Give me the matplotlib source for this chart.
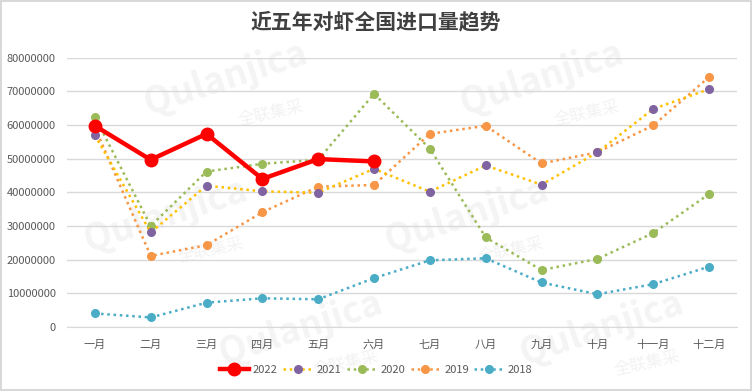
import matplotlib.pyplot as plt

plt.rcParams['font.family'] = ['Noto Sans CJK SC', 'DejaVu Sans']

# ---------------------------------------------------------
# data
# ---------------------------------------------------------

months = ["一月", "二月", "三月", "四月", "五月", "六月",
          "七月", "八月", "九月", "十月", "十一月", "十二月"]

y2022 = [59800000, 49700000, 57400000, 44000000, 49900000, 49200000]
y2021 = [57000000, 28100000, 42000000, 40300000, 39900000, 47000000,
         40200000, 48000000, 42300000, 51900000, 64800000, 70700000]
y2020 = [62500000, 30000000, 46200000, 48500000, 49700000, 69300000,
         53000000, 26600000, 16900000, 20200000, 27900000, 39500000]
y2019 = [59300000, 21100000, 24300000, 34100000, 41700000, 42200000,
         57400000, 59800000, 48600000, 51900000, 59900000, 74300000]
y2018 = [4000000, 2800000, 7200000, 8500000, 8200000, 14500000,
         19800000, 20400000, 13200000, 9700000, 12700000, 17900000]

yticks = list(range(0, 80000001, 10000000))

# ---------------------------------------------------------
# figure
# ---------------------------------------------------------

fig = plt.figure(figsize=(7.52, 3.91), dpi=100)
fig.patch.set_edgecolor("#d9d9d9")
fig.patch.set_linewidth(1.5)
ax = fig.add_axes([0.089, 0.164, 0.891, 0.688])

# faint watermark, kept behind everything
for (wx, wy) in [(0.30, 0.80), (0.72, 0.80), (0.22, 0.45),
                 (0.62, 0.45), (0.40, 0.16), (0.80, 0.16)]:
    fig.text(wx, wy, "Qulanjica", fontsize=26, fontweight="bold", color="#f4f4f4",
             rotation=18, ha="center", va="center", zorder=-2)
    fig.text(wx + 0.06, wy - 0.09, "全联集采", fontsize=12, color="#f2f2f2",
             rotation=12, ha="center", va="center", zorder=-2)

x = list(range(len(months)))
dots = (0, (1, 1.5))

ax.plot(x, y2018, linestyle=dots, linewidth=1.8, color="#4BACC6",
        marker="o", markersize=5.5, label="2018", zorder=3)
ax.plot(x, y2019, linestyle=dots, linewidth=1.8, color="#F79646",
        marker="o", markersize=5.5, label="2019", zorder=3)
ax.plot(x, y2020, linestyle=dots, linewidth=1.8, color="#9BBB59",
        marker="o", markersize=5.5, label="2020", zorder=3)
ax.plot(x, y2021, linestyle=dots, linewidth=1.8, color="#FFC000",
        marker="o", markersize=5.5, markerfacecolor="#8064A2",
        markeredgecolor="#8064A2", label="2021", zorder=3)
ax.plot(x[:len(y2022)], y2022, linestyle="-", linewidth=3.2, color="#FF0000",
        marker="o", markersize=9, label="2022", zorder=4)

ax.set_xlim(-0.5, len(months) - 0.5)
ax.set_ylim(0, 80000000)
ax.set_xticks(x)
ax.set_xticklabels(months)
ax.set_yticks(yticks)
ax.set_yticklabels([str(v) for v in yticks])

ax.grid(axis="y", color="#d9d9d9", linewidth=1)
ax.set_axisbelow(True)
for s in ["top", "right", "left"]:
    ax.spines[s].set_visible(False)
ax.spines["bottom"].set_color("#d9d9d9")
ax.tick_params(axis="both", length=0, labelsize=8, colors="#595959")
ax.tick_params(axis="x", pad=9)
ax.tick_params(axis="y", pad=8)
ax.patch.set_alpha(0)

fig.text(0.5, 0.944, "近五年对虾全国进口量趋势", fontsize=15, fontweight="bold",
         color="#404040", ha="center", va="center")

handles, labels = ax.get_legend_handles_labels()
order = [4, 3, 2, 1, 0]
fig.legend([handles[i] for i in order], [labels[i] for i in order],
           loc="center", bbox_to_anchor=(0.5, 0.054), ncol=5, frameon=False,
           fontsize=8, labelcolor="#595959", handlelength=2.6,
           handletextpad=0.4, columnspacing=0.5)

fig.savefig("out.png", dpi=100)
